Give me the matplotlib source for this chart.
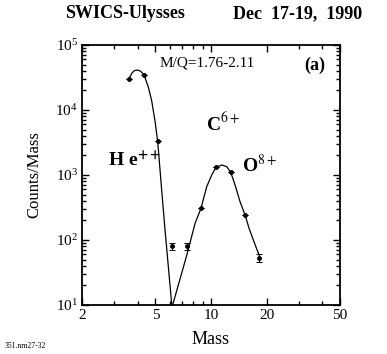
import numpy as np
import matplotlib
matplotlib.use('Agg')
from matplotlib import pyplot as plt
from matplotlib.ticker import FixedLocator, NullFormatter, LogFormatterMathtext

plt.rcParams['font.family'] = ['Liberation Serif', 'DejaVu Serif']
plt.rcParams['mathtext.fontset'] = 'stix'

# 测量点 (mass, counts/mass)
mass = [3.6, 4.34, 5.14, 6.15, 7.4, 8.83, 10.65, 12.79, 15.3, 18.3]
counts = [30300, 34500, 3300, 81, 81, 308, 1313, 1101, 242, 53]
err = [0, 0, 0, 10, 10, 0, 0, 0, 0, 7]

# 拟合曲线 (从图上读出的点)
curve_mass = [3.6, 3.72, 3.84, 4.01, 4.16, 4.34, 4.58, 4.77, 4.97, 5.14, 5.6, 6.13, 6.17,
              6.2, 7.41, 8.2, 8.83, 9.48, 10.09, 10.65, 11.44, 12.17, 12.79, 13.5,
              14.37, 15.3, 16.08, 16.96, 17.92, 18.28]
curve_counts = [30300, 36700, 40300, 41200, 39400, 34500, 22300, 13900, 6840, 3300, 175, 10, 8,
                10, 60, 181, 308, 661, 1000, 1313, 1425, 1343, 1101, 702,
                388, 242, 151, 100, 66, 58]

xticks = [2, 5, 10, 20, 50]
xminor = [3, 4, 6, 7, 8, 9, 30, 40]

fig = plt.figure(figsize=(3.87, 3.54), dpi=100)
ax = fig.add_axes([82 / 387, 1 - 305 / 354, 258 / 387, 260 / 354])

ax.plot(curve_mass, curve_counts, color='black', lw=0.9)
ax.errorbar(mass, counts, yerr=err, fmt='o', color='black', ms=2.5,
            elinewidth=0.7, capsize=2, capthick=0.7)

ax.set_xscale('log')
ax.set_yscale('log')
ax.set_xlim(2, 50)
ax.set_ylim(10, 1e5)

ax.xaxis.set_major_locator(FixedLocator(xticks))
ax.set_xticklabels([str(t) for t in xticks])
ax.xaxis.set_minor_locator(FixedLocator(xminor))
ax.xaxis.set_minor_formatter(NullFormatter())
ax.yaxis.set_major_formatter(LogFormatterMathtext())

ax.tick_params(which='both', direction='in', top=True, right=True,
               labelsize=11, width=1, pad=3)
ax.tick_params(which='major', length=5)
ax.tick_params(which='minor', length=3)
for s in ax.spines.values():
    s.set_linewidth(1.3)

ax.set_xlabel('Mass', fontsize=13, labelpad=6)
ax.set_ylabel('Counts/Mass', fontsize=12, labelpad=9)

ax.text(0.3, 0.955, 'M/Q=1.76-2.11', transform=ax.transAxes, fontsize=11, va='top')
ax.text(0.86, 0.955, '(a)', transform=ax.transAxes, fontsize=13, fontweight='bold', va='top')
ax.text(0.1, 0.53, r'H e$^{\mathbf{++}}$', transform=ax.transAxes, fontsize=14, fontweight='bold')
ax.text(0.48, 0.67, r'C$^{6+}$', transform=ax.transAxes, fontsize=14, fontweight='bold')
ax.text(0.62, 0.51, r'O$^{8+}$', transform=ax.transAxes, fontsize=14, fontweight='bold')

fig.text(65 / 387, 1 - 14 / 354, 'SWICS-Ulysses', fontsize=13, fontweight='bold', va='center')
fig.text(362 / 387, 1 - 14 / 354, 'Dec  17-19,  1990', fontsize=13, fontweight='bold',
         va='center', ha='right')
fig.text(5 / 387, 1 - 346 / 354, '351.nm27-32', fontsize=5.5, va='center')

fig.savefig('out.png', dpi=100)
